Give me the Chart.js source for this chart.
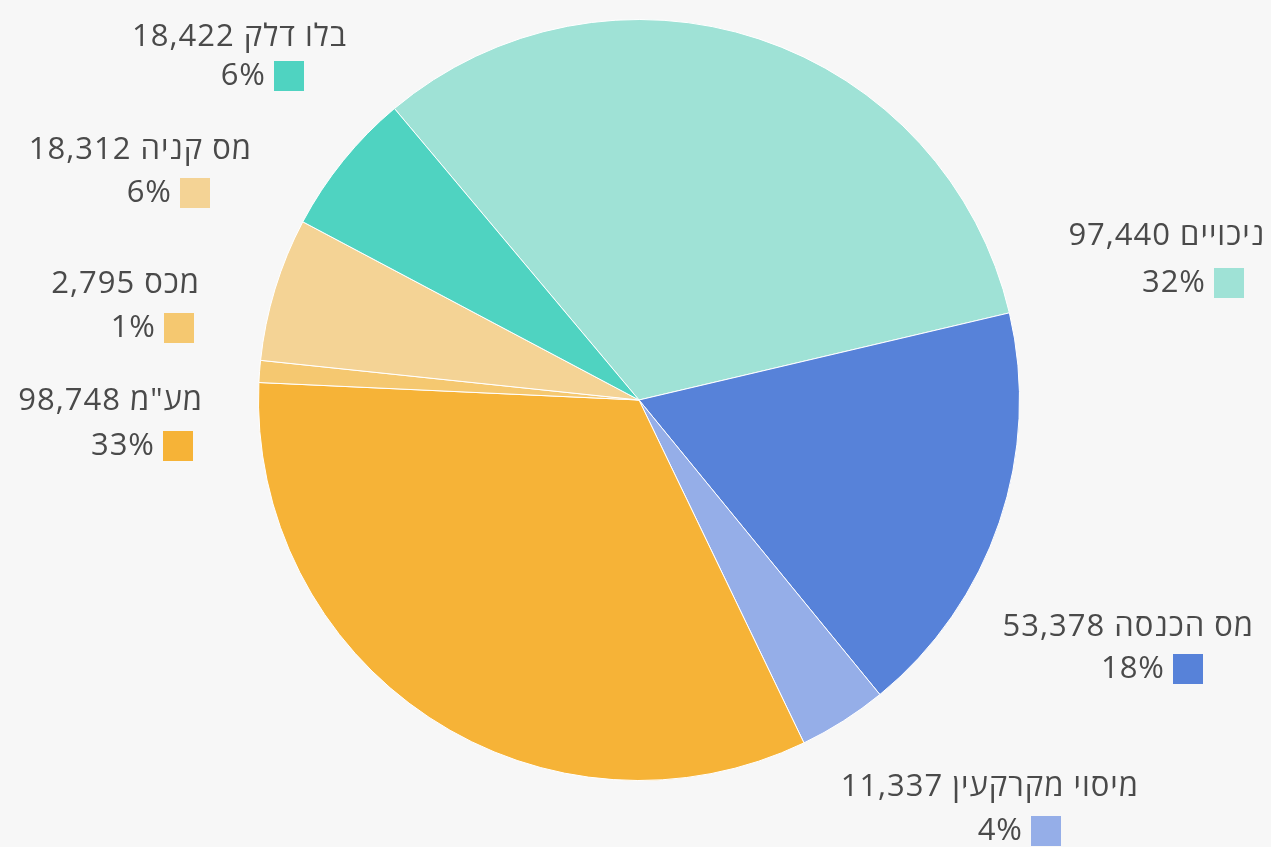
<!DOCTYPE html>
<html lang="he">
<head>
<meta charset="utf-8">
<script src="https://cdn.jsdelivr.net/npm/chart.js@4/dist/chart.umd.min.js"></script>
<style>
  html, body { margin: 0; padding: 0; background: #f7f7f7; }
  #wrap { width: 1271px; height: 847px; position: relative; }
</style>
</head>
<body>
<div id="wrap"><canvas id="c" width="1271" height="847"></canvas></div>
<script>
// ---- DATA ----
const categories = ['ניכויים', 'מס הכנסה', 'מיסוי מקרקעין', 'מע"מ', 'מכס', 'מס קניה', 'בלו דלק'];
const values = [97440, 53378, 11337, 98748, 2795, 18312, 18422];

// ---- STYLE ----
const colors = ['#9fe2d6', '#5782d9', '#95aee8', '#f6b337', '#f5c870', '#f4d395', '#4fd3c1'];
// label layout: right edge / centre of first line, right edge / centre of colour box
const labelLayout = [
  { tx: 1265, ty: 236, bx: 1244, by: 283 },
  { tx: 1254, ty: 627, bx: 1203, by: 669 },
  { tx: 1139, ty: 787, bx: 1061, by: 831 },
  { tx: 203,  ty: 401, bx: 193,  by: 446 },
  { tx: 200,  ty: 284, bx: 194,  by: 328 },
  { tx: 252,  ty: 150, bx: 210,  by: 193 },
  { tx: 347,  ty: 37,  bx: 304,  by: 76 }
];

const total = values.reduce((a, b) => a + b, 0);
const fmt = v => v.toLocaleString('en-US');

const labelPlugin = {
  id: 'outLabels',
  afterDraw(chart) {
    const ctx = chart.ctx;
    ctx.save();
    ctx.font = '31px "Open Sans", "DejaVu Sans", sans-serif';
    if ('letterSpacing' in ctx) ctx.letterSpacing = '1px';
    ctx.textBaseline = 'middle';
    const box = 30;
    categories.forEach((name, i) => {
      const L = labelLayout[i];
      ctx.direction = 'rtl';
      ctx.textAlign = 'right';
      ctx.fillStyle = '#4a4a4a';
      ctx.fillText(name + ' ' + fmt(values[i]), L.tx, L.ty);
      ctx.direction = 'ltr';
      ctx.textAlign = 'right';
      const pct = Math.round(values[i] / total * 100) + '%';
      ctx.fillText(pct, L.bx - box - 8, L.by);
      ctx.fillStyle = colors[i];
      ctx.fillRect(L.bx - box, L.by - box / 2, box, box);
    });
    ctx.restore();
  }
};

new Chart(document.getElementById('c'), {
  type: 'pie',
  data: {
    labels: categories,
    datasets: [{
      data: values,
      backgroundColor: colors,
      borderColor: '#ffffff',
      borderWidth: 1
    }]
  },
  options: {
    responsive: false,
    animation: false,
    rotation: -40,
    layout: { padding: { left: 258, right: 251, top: 19, bottom: 66 } },
    plugins: {
      legend: { display: false },
      tooltip: { enabled: false }
    }
  },
  plugins: [labelPlugin]
});
</script>
</body>
</html>
